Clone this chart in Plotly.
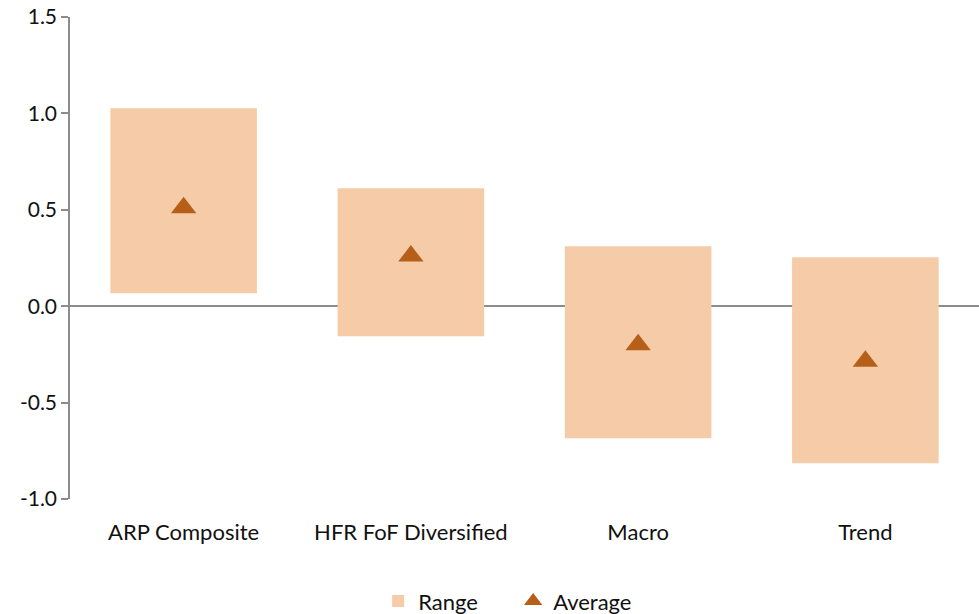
import plotly.graph_objects as go

categories = ["ARP Composite", "HFR FoF Diversified", "Macro", "Trend"]
range_high = [1.027, 0.612, 0.311, 0.254]
range_low = [0.067, -0.156, -0.685, -0.814]
average = [0.51, 0.26, -0.20, -0.285]
y_ticks = [-1.0, -0.5, 0.0, 0.5, 1.0, 1.5]

FONT = "Lato"
BAR_COLOR = "#F6CBA8"
TRI_COLOR = "#B65F18"

fig = go.Figure()
fig.add_trace(go.Bar(
    x=categories,
    y=[h - l for h, l in zip(range_high, range_low)],
    base=range_low,
    width=0.645,
    marker=dict(color=BAR_COLOR, line=dict(width=0)),
    name="Range",
))
fig.add_trace(go.Scatter(
    x=categories,
    y=average,
    mode="markers",
    marker=dict(symbol="triangle-up", size=22, color=TRI_COLOR),
    name="Average",
))

fig.update_layout(
    width=979, height=614,
    margin=dict(l=70, r=0, t=17, b=115, autoexpand=False),
    plot_bgcolor="white", paper_bgcolor="white",
    font=dict(family=FONT, size=22, color="#111111"),
    showlegend=True,
    legend=dict(orientation="h", x=0.339, xanchor="left", y=-0.212, yanchor="middle",
                font=dict(size=22), itemwidth=30, entrywidth=90, traceorder="normal"),
    xaxis=dict(
        showgrid=False, showline=False, zeroline=False,
        ticks="outside", ticklen=14, tickcolor="rgba(0,0,0,0)",
        range=[-0.5, 3.5],
    ),
    yaxis=dict(
        range=[-1.0, 1.5], tickvals=y_ticks,
        ticktext=[f"{v:.1f}" for v in y_ticks],
        showgrid=False, showline=True, linecolor="#8C8C8C", linewidth=1.5,
        ticks="outside", ticklen=7, tickcolor="#8C8C8C", tickwidth=1.5,
        zeroline=True, zerolinecolor="#8C8C8C", zerolinewidth=1.5,
        tickfont=dict(size=21),
    ),
)

fig.write_html("out.html")
